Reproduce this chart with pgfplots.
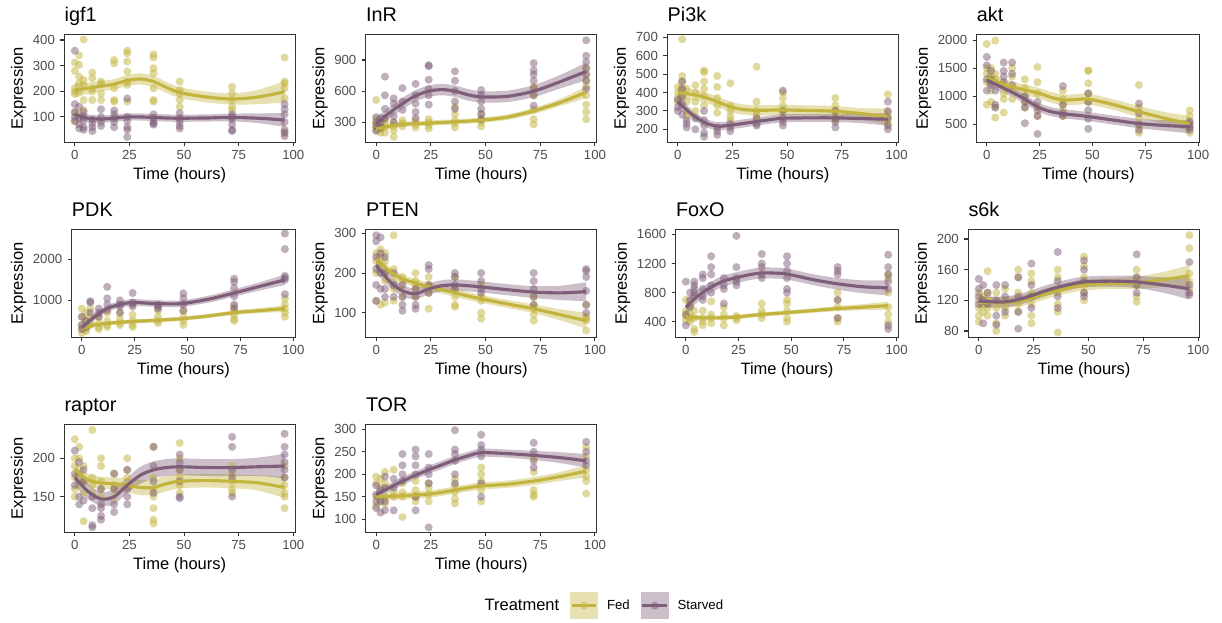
\documentclass[border=0pt]{standalone}
\usepackage{fontspec}
\setmainfont{Liberation Sans}
\usepackage{pgfplots}
\usepackage{pgfplotstable}
\pgfplotsset{compat=1.18}
\usepgfplotslibrary{fillbetween}

\definecolor{fedcol}{RGB}{194,180,62}
\definecolor{stacol}{RGB}{127,94,121}
\definecolor{framecol}{RGB}{51,51,51}
\definecolor{ticktext}{RGB}{77,77,77}

% ---------- raw measurements: t = time (hours), f = Fed, s = Starved ----------
\pgfplotstableread{
t f s
0 312 358
0 280 150
0 212 120
0 199 100
0 190 85
0 115 nan
0 82 nan
2 340 140
2 303 95
2 257 70
2 231 55
2 200 nan
4 402 120
4 244 100
4 225 85
4 166 60
4 127 50
8 273 90
8 251 75
8 212 60
8 199 45
8 166 nan
12 238 130
12 230 100
12 192 80
12 166 65
18 322 125
18 309 110
18 212 95
18 166 80
18 160 60
24 358 172
24 348 100
24 316 85
24 277 60
24 238 50
24 225 22
24 160 nan
36 344 110
36 332 95
36 290 80
36 270 75
36 212 70
36 166 nan
36 160 nan
48 238 115
48 205 95
48 192 80
48 166 65
48 140 55
72 218 110
72 192 100
72 166 90
72 140 70
72 127 50
72 nan 45
96 332 150
96 238 130
96 231 110
96 212 80
96 173 50
96 36 40
96 nan 25
}\igfPts

\pgfplotstableread{
t f s
0 515 350
0 330 300
0 290 260
0 250 220
0 220 nan
2 300 340
2 260 300
2 230 250
2 200 nan
4 320 740
4 280 560
4 250 430
4 200 340
8 300 530
8 260 480
8 220 360
8 160 300
12 320 630
12 290 500
12 260 420
18 320 670
18 280 560
18 250 480
18 nan 400
18 nan 340
24 330 850
24 300 840
24 270 710
24 240 620
24 nan 560
24 nan 470
36 450 790
36 380 700
36 320 600
36 290 500
36 250 430
48 380 610
48 330 560
48 300 500
48 260 430
48 nan 380
48 nan 330
72 640 870
72 560 800
72 420 760
72 330 700
72 280 630
72 nan 560
72 nan 460
96 820 1090
96 760 940
96 700 880
96 640 820
96 560 760
96 470 700
96 400 620
96 330 nan
}\inrPts

\pgfplotstableread{
t f s
0 430 360
0 400 320
0 370 300
0 350 nan
2 690 460
2 490 420
2 460 380
2 420 340
2 380 280
4 420 250
4 350 230
4 300 210
4 270 nan
8 440 260
8 400 200
8 350 nan
8 300 nan
12 520 300
12 510 250
12 460 220
12 420 180
12 380 160
12 330 nan
18 490 210
18 430 190
18 370 170
18 330 nan
18 290 nan
24 450 230
24 330 210
24 300 190
24 270 nan
24 250 nan
36 540 260
36 350 230
36 300 220
36 280 nan
36 260 nan
48 400 410
48 370 300
48 330 260
48 300 240
48 270 220
72 370 300
72 330 260
72 300 240
72 270 210
72 250 nan
96 390 350
96 290 300
96 270 260
96 250 220
96 230 200
}\pikPts

\pgfplotstableread{
t f s
0 1930 1700
0 1500 1550
0 1400 1300
0 1250 1100
0 850 nan
2 1500 1450
2 1350 1300
2 1100 1200
2 900 nan
4 1990 1100
4 1400 850
4 1300 800
4 800 nan
4 620 nan
8 1200 1600
8 1050 1450
8 950 1350
8 710 1250
12 1500 1600
12 1350 1400
12 1100 1200
12 950 nan
18 1300 1000
18 1150 900
18 1000 800
18 900 520
18 800 nan
24 1520 900
24 1250 750
24 1050 650
24 800 330
24 650 nan
36 1100 1180
36 950 850
36 850 700
36 750 650
36 650 nan
48 1460 1050
48 1450 900
48 1230 750
48 1050 600
48 900 420
72 1200 870
72 800 700
72 600 500
72 450 400
72 350 nan
96 750 550
96 650 500
96 550 450
96 450 400
96 350 nan
}\aktPts

\pgfplotstableread{
t f s
0 800 600
0 600 400
0 400 300
0 300 nan
0 200 nan
2 700 500
2 500 350
2 300 nan
2 250 nan
4 800 980
4 600 950
4 500 700
4 400 nan
8 600 800
8 450 700
8 350 600
8 300 nan
12 700 1330
12 500 1050
12 400 900
12 350 750
18 700 1000
18 550 900
18 450 850
18 400 700
24 650 1180
24 500 950
24 400 900
24 350 850
36 750 900
36 600 850
36 500 800
36 450 nan
48 750 1170
48 600 1050
48 500 900
48 400 750
72 850 1530
72 750 1450
72 650 1300
72 550 1100
72 500 900
72 nan 800
96 1050 2630
96 900 2250
96 800 1600
96 700 1550
96 600 1500
96 nan 1150
}\pdkPts

\pgfplotstableread{
t f s
0 250 295
0 230 280
0 200 240
0 130 210
0 nan 170
0 nan 130
2 260 290
2 240 250
2 220 200
2 120 160
4 250 240
4 230 200
4 200 160
4 180 140
4 125 nan
8 295 200
8 210 170
8 180 140
8 160 nan
8 130 nan
12 190 170
12 180 140
12 160 120
12 140 105
18 200 160
18 180 140
18 170 120
18 160 110
18 140 nan
24 190 220
24 170 210
24 150 170
24 110 150
36 190 200
36 160 190
36 140 170
36 120 160
36 115 nan
48 170 200
48 140 180
48 130 160
48 100 150
48 85 nan
72 140 200
72 120 180
72 110 160
72 95 140
72 80 120
96 120 210
96 90 205
96 85 190
96 80 155
96 55 120
96 nan 100
}\ptenPts

\pgfplotstableread{
t f s
0 700 950
0 550 500
0 480 350
0 420 nan
2 620 800
2 500 700
2 450 600
2 400 nan
4 550 950
4 450 900
4 300 850
4 260 800
4 nan 750
8 550 1050
8 450 1000
8 400 850
8 350 750
8 nan 700
12 680 1300
12 500 1150
12 450 1050
12 380 900
12 nan 800
18 600 1000
18 500 900
18 440 850
18 350 650
24 480 1580
24 450 1150
24 420 1000
24 nan 950
24 nan 900
36 650 1330
36 550 1200
36 500 1150
36 450 1050
36 nan 1000
48 700 1300
48 650 1200
48 550 1100
48 450 1000
48 400 850
48 nan 800
72 800 1150
72 700 1100
72 600 1050
72 450 700
72 400 450
96 1050 1320
96 1000 1150
96 800 1050
96 600 950
96 500 850
96 400 350
96 nan 300
}\foxoPts

\pgfplotstableread{
t f s
0 130 148
0 120 135
0 110 125
0 100 115
0 92 nan
2 125 140
2 115 120
2 105 90
4 158 130
4 130 115
4 120 nan
4 110 nan
4 100 nan
8 130 140
8 110 120
8 90 100
8 80 88
12 135 140
12 120 125
12 110 105
12 100 nan
18 160 150
18 150 125
18 130 105
18 115 83
18 105 nan
24 155 168
24 145 140
24 130 125
24 115 110
24 100 nan
24 90 nan
36 160 183
36 150 145
36 130 125
36 115 110
36 105 nan
36 78 nan
48 177 172
48 165 160
48 150 145
48 140 130
48 130 125
48 120 nan
72 160 180
72 150 150
72 140 140
72 125 130
72 118 nan
96 205 170
96 188 140
96 155 130
96 145 127
96 135 nan
}\sixkPts

\pgfplotstableread{
t f s
0 225 210
0 200 180
0 190 165
0 175 nan
0 160 nan
0 150 nan
2 215 195
2 200 150
2 180 140
2 165 nan
4 190 185
4 170 170
4 155 145
4 118 nan
8 237 150
8 175 135
8 165 113
8 155 110
12 200 160
12 190 140
12 170 135
12 160 125
12 150 120
18 180 180
18 165 160
18 160 140
18 150 130
24 200 185
24 185 160
24 175 150
24 165 140
36 215 215
36 175 190
36 160 170
36 150 155
36 135 nan
36 120 nan
36 115 nan
48 220 205
48 200 195
48 185 185
48 175 170
48 165 150
48 155 148
72 190 228
72 180 215
72 170 185
72 160 175
72 155 150
96 190 232
96 175 215
96 165 205
96 155 195
96 150 185
96 135 175
}\raptorPts

\pgfplotstableread{
t f s
0 195 175
0 180 155
0 150 140
0 130 125
2 190 165
2 170 140
2 140 115
4 205 195
4 180 170
4 150 140
4 135 120
8 210 190
8 160 170
8 150 120
12 180 245
12 160 220
12 150 200
12 105 185
18 185 255
18 165 240
18 150 220
18 140 200
18 nan 150
18 nan 120
24 180 245
24 170 215
24 155 200
24 140 180
24 nan 82
36 190 298
36 175 255
36 160 245
36 145 230
36 135 200
36 nan 180
48 215 288
48 200 265
48 185 255
48 165 240
48 140 180
48 nan 150
72 235 270
72 205 250
72 165 230
72 155 215
72 150 nan
96 260 272
96 240 250
96 210 230
96 195 220
96 185 nan
96 157 nan
}\torPts

% ---------- smoothed trends: fm/sm = fit, fw/sw = half width of the band ----------
\pgfplotstableread{
t fm fw sm sw
0 205 30 110 20
6 212 22 95 15
12 220 20 92 14
18 228 20 95 14
24 242 21 100 14
30 248 22 100 14
36 238 22 98 14
42 215 21 96 14
48 195 21 95 14
60 178 21 96 14
72 170 22 98 15
84 178 28 95 19
96 198 42 88 27
}\igfFit

\pgfplotstableread{
t fm fw sm sw
0 235 35 285 60
6 262 25 390 55
12 280 25 480 55
18 287 25 555 55
24 292 25 600 55
30 298 25 615 55
36 305 25 600 55
42 312 25 565 55
48 320 25 545 55
60 350 27 550 55
72 410 30 600 58
84 490 35 690 65
96 590 55 790 85
}\inrFit

\pgfplotstableread{
t fm fw sm sw
0 400 40 350 35
6 390 30 285 25
12 375 28 238 22
18 350 28 217 22
24 322 28 222 22
30 307 28 232 22
36 303 28 242 22
42 304 28 252 22
48 305 28 260 22
60 302 28 262 22
72 298 28 262 22
84 285 30 258 25
96 268 45 255 35
}\pikFit

\pgfplotstableread{
t fm fw sm sw
0 1330 120 1290 110
6 1240 100 1180 90
12 1170 95 1070 80
18 1110 95 950 80
24 1060 95 810 80
30 985 95 730 80
36 935 95 690 80
42 940 95 665 80
48 950 95 640 80
60 850 95 575 80
72 725 100 515 85
84 610 110 480 95
96 510 140 460 120
}\aktFit

\pgfplotstableread{
t fm fw sm sw
0 310 65 330 90
6 400 55 600 85
12 440 50 800 80
18 465 50 900 80
24 485 50 950 80
30 500 50 935 80
36 515 50 920 80
42 535 50 915 80
48 555 50 925 80
60 620 50 1030 85
72 700 55 1180 90
84 750 60 1340 100
96 800 80 1500 130
}\pdkFit

\pgfplotstableread{
t fm fw sm sw
0 235 16 220 19
6 205 11 180 15
12 185 10 155 14
18 175 10 148 14
24 165 10 160 14
30 158 10 168 14
36 150 10 170 14
42 142 10 168 14
48 135 10 165 14
60 122 10 158 14
72 110 11 152 15
84 95 14 150 18
96 80 20 153 24
}\ptenFit

\pgfplotstableread{
t fm fw sm sw
0 470 45 600 95
6 455 35 760 80
12 452 30 875 75
18 455 30 960 75
24 465 30 1005 75
30 482 30 1045 75
36 500 30 1070 75
42 512 30 1068 75
48 525 30 1055 75
60 552 30 980 75
72 580 35 920 80
84 600 42 880 88
96 620 55 865 105
}\foxoFit

\pgfplotstableread{
t fm fw sm sw
0 117 8 119 8
6 117 7 118 7
12 117 7 118 7
18 119 7 121 7
24 123 7 126 7
30 128 7 132 7
36 133 7 137 7
42 137 7 141 7
48 140 7 144 7
60 142 7 145 7
72 143 8 144 8
84 147 10 140 10
96 152 14 135 14
}\sixkFit

\pgfplotstableread{
t fm fw sm sw
0 186 11 175 11
6 172 8 157 10
12 168 8 147 9
18 167 8 150 10
24 165 9 165 10
30 162 10 178 11
36 162 10 185 11
42 167 10 188 11
48 170 9 189 11
60 171 9 188 11
72 170 9 188 11
84 168 10 189 12
96 162 14 190 16
}\raptorFit

\pgfplotstableread{
t fm fw sm sw
0 150 10 155 11
6 151 8 170 9
12 152 8 185 9
18 154 8 198 9
24 156 8 210 9
30 160 8 221 9
36 165 8 232 9
42 170 8 241 9
48 174 8 248 9
60 178 8 246 9
72 185 9 242 10
84 195 10 237 12
96 207 14 230 15
}\torFit

\pgfplotsset{
  genepanel/.style={
    anchor=south west, scale only axis, height=72pt,
    xmin=-4.8, xmax=100.8, xtick={0,25,50,75,100},
    tick pos=left, tick align=outside, major tick length=2.75pt,
    axis line style={draw=framecol, line width=0.7pt},
    major tick style={draw=framecol, line width=0.7pt},
    tick label style={font=\fontsize{8.8}{10.5}\selectfont, text=ticktext},
    xticklabel shift=-1pt,
    /pgf/number format/assume math mode=true,
    /pgf/number format/1000 sep={},
    scaled y ticks=false,
    xlabel={Time (hours)}, ylabel={Expression},
    xlabel shift=-1.5pt, ylabel shift=-2.5pt,
    label style={font=\fontsize{11}{13}\selectfont},
    title style={font=\fontsize{13.2}{15.8}\selectfont, at={(0,1)},
                 anchor=base west, yshift=2.4pt, inner sep=0pt},
  },
  fedpts/.style={only marks, mark=*, mark size=2.7pt,
    mark options={draw opacity=0, fill=fedcol, fill opacity=0.5}},
  stapts/.style={only marks, mark=*, mark size=2.7pt,
    mark options={draw opacity=0, fill=stacol, fill opacity=0.5}},
  fedfit/.style={draw=fedcol, line width=2.1pt, smooth, no markers},
  stafit/.style={draw=stacol, line width=2.1pt, smooth, no markers},
}

% #1 placement and y range, #2 gene name, #3 points table, #4 trend table
\newcommand{\genepanel}[4]{%
  \begin{axis}[genepanel, hide axis, #1]
    \addplot[fedpts] table[x=t, y=f] {#3};
    \addplot[stapts] table[x=t, y=s] {#3};
  \end{axis}
  \begin{axis}[genepanel, #1, title={#2}]
    \addplot[name path=fhi, draw=none, smooth] table[x=t, y expr=\thisrow{fm}+\thisrow{fw}] {#4};
    \addplot[name path=flo, draw=none, smooth] table[x=t, y expr=\thisrow{fm}-\thisrow{fw}] {#4};
    \addplot[fill=fedcol, fill opacity=0.4, draw=none] fill between[of=fhi and flo];
    \addplot[fedfit] table[x=t, y=fm] {#4};
    \addplot[name path=shi, draw=none, smooth] table[x=t, y expr=\thisrow{sm}+\thisrow{sw}] {#4};
    \addplot[name path=slo, draw=none, smooth] table[x=t, y expr=\thisrow{sm}-\thisrow{sw}] {#4};
    \addplot[fill=stacol, fill opacity=0.4, draw=none] fill between[of=shi and slo];
    \addplot[stafit] table[x=t, y=sm] {#4};
  \end{axis}%
}

\begin{document}
\begin{tikzpicture}
% page frame
\path (0pt,0pt) rectangle (814.67pt,-414pt);

% row 1
\genepanel{at={(42.9pt,-94.9pt)}, width=153.8pt, ymin=1, ymax=422, ytick={100,200,300,400}}{igf1}{\igfPts}{\igfFit}
\genepanel{at={(243.8pt,-94.9pt)}, width=154pt, ymin=107, ymax=1147, ytick={300,600,900}}{InR}{\inrPts}{\inrFit}
\genepanel{at={(444.9pt,-94.9pt)}, width=154pt, ymin=129, ymax=716, ytick={200,300,400,500,600,700}}{Pi3k}{\pikPts}{\pikFit}
\genepanel{at={(651.1pt,-94.9pt)}, width=148.8pt, ymin=180, ymax=2101, ytick={500,1000,1500,2000}}{akt}{\aktPts}{\aktFit}
% row 2
\genepanel{at={(47.8pt,-224.9pt)}, width=148.9pt, ymin=98, ymax=2732, ytick={1000,2000}}{PDK}{\pdkPts}{\pdkFit}
\genepanel{at={(243.8pt,-224.9pt)}, width=154pt, ymin=38, ymax=310, ytick={100,200,300}}{PTEN}{\ptenPts}{\ptenFit}
\genepanel{at={(450.5pt,-224.9pt)}, width=148.4pt, ymin=185, ymax=1669, ytick={400,800,1200,1600}}{FoxO}{\foxoPts}{\foxoFit}
\genepanel{at={(645.5pt,-224.9pt)}, width=154.4pt, ymin=71.7, ymax=212.6, ytick={80,120,160,200}}{s6k}{\sixkPts}{\sixkFit}
% row 3
\genepanel{at={(42.9pt,-354.9pt)}, width=153.8pt, ymin=103.5, ymax=244.3, ytick={150,200}}{raptor}{\raptorPts}{\raptorFit}
\genepanel{at={(243.8pt,-354.9pt)}, width=154pt, ymin=71, ymax=311, ytick={100,150,200,250,300}}{TOR}{\torPts}{\torFit}

% legend
\begin{axis}[hide axis, scale only axis, width=1pt, height=1pt,
  xmin=0, xmax=1, ymin=0, ymax=1, at={(485.3pt,-403.7pt)}, anchor=center,
  legend style={at={(0.5,0.5)}, anchor=east, draw=none, fill=none,
    legend columns=3, font=\fontsize{8.8}{10.5}\selectfont,
    nodes={inner sep=0pt},
    /tikz/every odd column/.style={column sep=6pt},
    /tikz/every even column/.style={column sep=7.3pt}}]
  \addlegendimage{empty legend}
  \addlegendentry{\fontsize{11}{13}\selectfont Treatment}
  \addlegendimage{legend image code/.code={
      \path[fill=fedcol, fill opacity=0.4, draw=none] (0pt,-9.25pt) rectangle (18.5pt,9.25pt);
      \path[draw=fedcol, line width=2.1pt] (1pt,0pt) -- (17.5pt,0pt);
      \path[fill=fedcol, fill opacity=0.5, draw=none] (9.25pt,0pt) circle (2.7pt);}}
  \addlegendentry{Fed}
  \addlegendimage{legend image code/.code={
      \path[fill=stacol, fill opacity=0.4, draw=none] (0pt,-9.25pt) rectangle (18.5pt,9.25pt);
      \path[draw=stacol, line width=2.1pt] (1pt,0pt) -- (17.5pt,0pt);
      \path[fill=stacol, fill opacity=0.5, draw=none] (9.25pt,0pt) circle (2.7pt);}}
  \addlegendentry{Starved}
\end{axis}
\end{tikzpicture}
\end{document}
